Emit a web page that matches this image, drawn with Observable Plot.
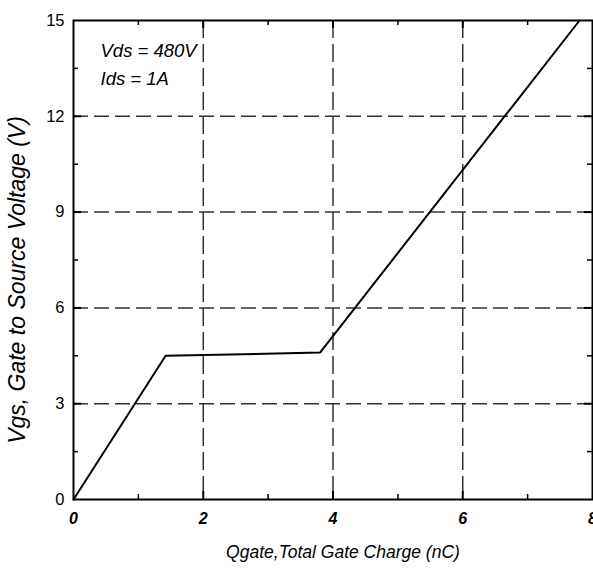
<!DOCTYPE html>
<html>
<head>
<meta charset="utf-8">
<script src="https://cdn.jsdelivr.net/npm/d3@7"></script>
<script src="https://cdn.jsdelivr.net/npm/@observablehq/plot@0.6"></script>
<style>
  html, body { margin: 0; padding: 0; background: #fff; overflow: hidden; }
  #chart { width: 593px; height: 569px; overflow: hidden; }
</style>
</head>
<body>
<div id="chart"></div>
<script>
// Data
const qgate = [0, 1.42, 3.8, 7.8];          // nC
const vgs   = [0, 4.5, 4.6, 15];            // V
const xTickLabels = [0, 2, 4, 6, 8];
const yTickLabels = [0, 3, 6, 9, 12, 15];
const xGrid = [2, 4, 6];
const yGrid = [3, 6, 9, 12];
const xMinor = [1, 3, 5, 7];
const yMinor = [1.5, 4.5, 7.5, 10.5, 13.5];
const annotation = ["Vds = 480V", "Ids = 1A"];
const xLabel = "Qgate,Total Gate Charge (nC)";
const yLabel = "Vgs, Gate to Source Voltage (V)";

const curve = qgate.map((q, i) => ({q, v: vgs[i]}));

const W = 593, H = 569;
const mL = 73, mT = 20, mR = 1, mB = 70;
const fw = W - mL - mR, fh = H - mT - mB;
const font = "'Liberation Sans', Arial, sans-serif";

const chart = Plot.plot({
  width: W,
  height: H,
  marginLeft: mL,
  marginTop: mT,
  marginRight: mR,
  marginBottom: mB,
  style: {fontFamily: font, background: "#fff", color: "#000", overflow: "hidden"},
  x: {domain: [0, 8], axis: null},
  y: {domain: [0, 15], axis: null},
  marks: [
    // dashed grid
    Plot.ruleX(xGrid, {x: d => d, stroke: "#333", strokeWidth: 1.5, strokeDasharray: "18,6"}),
    Plot.ruleY(yGrid, {y: d => d, stroke: "#333", strokeWidth: 1.5, strokeDasharray: "15,6"}),
    // inward ticks: bottom & top (major + minor)
    Plot.tickX(xGrid, {x: d => d, insetTop: fh - 8, stroke: "#000", strokeWidth: 2}),
    Plot.tickX(xMinor, {x: d => d, insetTop: fh - 5, stroke: "#000", strokeWidth: 1.5}),
    Plot.tickX(xGrid, {x: d => d, insetBottom: fh - 8, stroke: "#000", strokeWidth: 2}),
    Plot.tickX(xMinor, {x: d => d, insetBottom: fh - 5, stroke: "#000", strokeWidth: 1.5}),
    // inward ticks: left & right
    Plot.tickY(yGrid, {y: d => d, insetRight: fw - 8, stroke: "#000", strokeWidth: 2}),
    Plot.tickY(yMinor, {y: d => d, insetRight: fw - 5, stroke: "#000", strokeWidth: 1.5}),
    Plot.tickY(yGrid, {y: d => d, insetLeft: fw - 8, stroke: "#000", strokeWidth: 2}),
    Plot.tickY(yMinor, {y: d => d, insetLeft: fw - 5, stroke: "#000", strokeWidth: 1.5}),
    // frame
    Plot.frame({stroke: "#000", strokeWidth: 2}),
    // curve
    Plot.line(curve, {x: "q", y: "v", stroke: "#000", strokeWidth: 2, strokeLinejoin: "miter"}),
    // tick labels
    Plot.text(xTickLabels, {x: d => d, y: 0, text: d => String(d), dy: 19, fontSize: 16, fontStyle: "italic", fontWeight: "bold", fill: "#000"}),
    Plot.text(yTickLabels, {y: d => d, x: 0, text: d => String(d), dx: -9, textAnchor: "end", fontSize: 16.5, fill: "#000"}),
    // annotation
    Plot.text([annotation.join("\n")], {frameAnchor: "top-left", dx: 27, dy: 17, lineAnchor: "top", lineHeight: 1.5, fontSize: 18.5, fontStyle: "italic", fill: "#000"}),
    // axis labels
    Plot.text([xLabel], {frameAnchor: "bottom", dx: 10, dy: 53, lineAnchor: "middle", fontSize: 17.5, fontStyle: "italic", fill: "#000"}),
    Plot.text([yLabel], {frameAnchor: "left", dx: -56, dy: 20, rotate: -90, textAnchor: "middle", lineAnchor: "middle", fontSize: 23, fontStyle: "italic", fill: "#000"})
  ]
});
document.getElementById("chart").appendChild(chart);
</script>
</body>
</html>
